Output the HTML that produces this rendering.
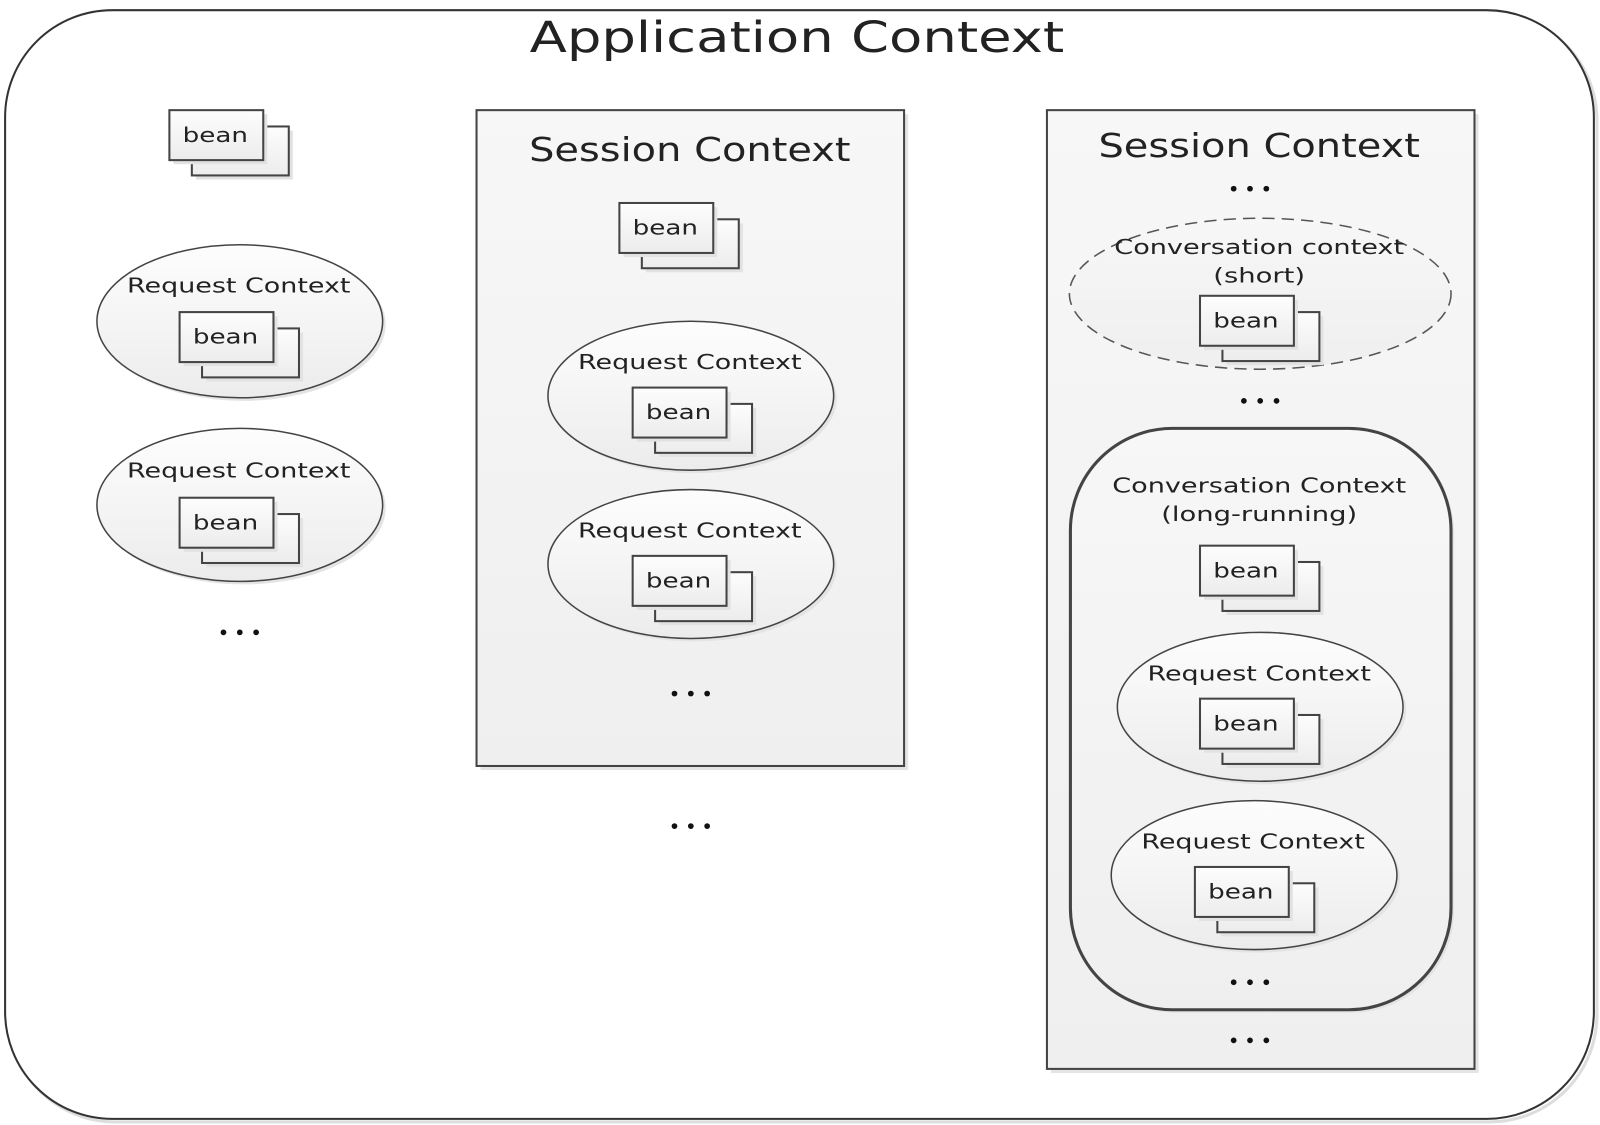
<!DOCTYPE html>
<html><head><style>
html,body{margin:0;padding:0;background:#fff;}
svg{display:block;}
text{font-family:"DejaVu Sans","Liberation Sans",sans-serif;fill:#222;}
</style></head><body>
<svg width="1600" height="1125" viewBox="0 0 1568 1103" preserveAspectRatio="none" xmlns="http://www.w3.org/2000/svg">
<defs>
<linearGradient id="g" x1="0" y1="0" x2="0" y2="1"><stop offset="0" stop-color="#fdfdfd"/><stop offset="1" stop-color="#ececec"/></linearGradient>
<linearGradient id="gs" x1="0" y1="0" x2="0" y2="1"><stop offset="0" stop-color="#f7f7f7"/><stop offset="1" stop-color="#efefef"/></linearGradient>
</defs>
<rect x="8" y="13" width="1557" height="1087" rx="105" fill="none" stroke="#ddd" stroke-width="3"/>
<rect x="5" y="10" width="1557" height="1087" rx="105" fill="#fff" stroke="#333" stroke-width="2"/>
<text x="781" y="51" font-size="42" text-anchor="middle" textLength="524" lengthAdjust="spacingAndGlyphs">Application Context</text>

<g><rect x="192" y="128" width="95" height="48" fill="#e2e2e2"/><rect x="188" y="124" width="95" height="48" fill="url(#g)" stroke="#444" stroke-width="2"/><rect x="170" y="112" width="92" height="49" fill="#e2e2e2"/><rect x="166" y="108" width="92" height="49" fill="url(#g)" stroke="#444" stroke-width="2"/><text x="211" y="139" font-size="20" text-anchor="middle" textLength="64" lengthAdjust="spacingAndGlyphs">bean</text></g>

<ellipse cx="238" cy="318" rx="140" ry="75" fill="#e4e4e4"/>
<ellipse cx="235" cy="315" rx="140" ry="75" fill="url(#g)" stroke="#444" stroke-width="1.5"/>
<text x="234" y="287" font-size="20" text-anchor="middle" textLength="219" lengthAdjust="spacingAndGlyphs">Request Context</text>
<g transform="translate(10,198)"><rect x="192" y="128" width="95" height="48" fill="#e2e2e2"/><rect x="188" y="124" width="95" height="48" fill="url(#g)" stroke="#444" stroke-width="2"/><rect x="170" y="112" width="92" height="49" fill="#e2e2e2"/><rect x="166" y="108" width="92" height="49" fill="url(#g)" stroke="#444" stroke-width="2"/><text x="211" y="139" font-size="20" text-anchor="middle" textLength="64" lengthAdjust="spacingAndGlyphs">bean</text></g>

<ellipse cx="238" cy="498" rx="140" ry="75" fill="#e4e4e4"/>
<ellipse cx="235" cy="495" rx="140" ry="75" fill="url(#g)" stroke="#444" stroke-width="1.5"/>
<text x="234" y="468" font-size="20" text-anchor="middle" textLength="219" lengthAdjust="spacingAndGlyphs">Request Context</text>
<g transform="translate(10,380)"><rect x="192" y="128" width="95" height="48" fill="#e2e2e2"/><rect x="188" y="124" width="95" height="48" fill="url(#g)" stroke="#444" stroke-width="2"/><rect x="170" y="112" width="92" height="49" fill="#e2e2e2"/><rect x="166" y="108" width="92" height="49" fill="url(#g)" stroke="#444" stroke-width="2"/><text x="211" y="139" font-size="20" text-anchor="middle" textLength="64" lengthAdjust="spacingAndGlyphs">bean</text></g>
<g fill="#111"><circle cx="219" cy="620" r="2.8"/><circle cx="235" cy="620" r="2.8"/><circle cx="251" cy="620" r="2.8"/></g>

<rect x="471" y="112" width="419" height="643" fill="#e4e4e4"/>
<rect x="467" y="108" width="419" height="643" fill="url(#gs)" stroke="#444" stroke-width="2"/>
<text x="676" y="158" font-size="32" text-anchor="middle" textLength="315" lengthAdjust="spacingAndGlyphs">Session Context</text>
<g transform="translate(441,91)"><rect x="192" y="128" width="95" height="48" fill="#e2e2e2"/><rect x="188" y="124" width="95" height="48" fill="url(#g)" stroke="#444" stroke-width="2"/><rect x="170" y="112" width="92" height="49" fill="#e2e2e2"/><rect x="166" y="108" width="92" height="49" fill="url(#g)" stroke="#444" stroke-width="2"/><text x="211" y="139" font-size="20" text-anchor="middle" textLength="64" lengthAdjust="spacingAndGlyphs">bean</text></g>
<ellipse cx="680" cy="391" rx="140" ry="73" fill="#e4e4e4"/>
<ellipse cx="677" cy="388" rx="140" ry="73" fill="url(#g)" stroke="#444" stroke-width="1.5"/>
<text x="676" y="362" font-size="20" text-anchor="middle" textLength="219" lengthAdjust="spacingAndGlyphs">Request Context</text>
<g transform="translate(454,272)"><rect x="192" y="128" width="95" height="48" fill="#e2e2e2"/><rect x="188" y="124" width="95" height="48" fill="url(#g)" stroke="#444" stroke-width="2"/><rect x="170" y="112" width="92" height="49" fill="#e2e2e2"/><rect x="166" y="108" width="92" height="49" fill="url(#g)" stroke="#444" stroke-width="2"/><text x="211" y="139" font-size="20" text-anchor="middle" textLength="64" lengthAdjust="spacingAndGlyphs">bean</text></g>
<ellipse cx="680" cy="556" rx="140" ry="73" fill="#e4e4e4"/>
<ellipse cx="677" cy="553" rx="140" ry="73" fill="url(#g)" stroke="#444" stroke-width="1.5"/>
<text x="676" y="527" font-size="20" text-anchor="middle" textLength="219" lengthAdjust="spacingAndGlyphs">Request Context</text>
<g transform="translate(454,437)"><rect x="192" y="128" width="95" height="48" fill="#e2e2e2"/><rect x="188" y="124" width="95" height="48" fill="url(#g)" stroke="#444" stroke-width="2"/><rect x="170" y="112" width="92" height="49" fill="#e2e2e2"/><rect x="166" y="108" width="92" height="49" fill="url(#g)" stroke="#444" stroke-width="2"/><text x="211" y="139" font-size="20" text-anchor="middle" textLength="64" lengthAdjust="spacingAndGlyphs">bean</text></g>
<g fill="#111"><circle cx="661" cy="680" r="2.8"/><circle cx="677" cy="680" r="2.8"/><circle cx="693" cy="680" r="2.8"/>
<circle cx="661" cy="810" r="2.8"/><circle cx="677" cy="810" r="2.8"/><circle cx="693" cy="810" r="2.8"/></g>

<rect x="1030" y="112" width="419" height="940" fill="#e4e4e4"/>
<rect x="1026" y="108" width="419" height="940" fill="url(#gs)" stroke="#444" stroke-width="2"/>
<text x="1234" y="154" font-size="32" text-anchor="middle" textLength="315" lengthAdjust="spacingAndGlyphs">Session Context</text>
<g fill="#111"><circle cx="1209" cy="185" r="2.8"/><circle cx="1225" cy="185" r="2.8"/><circle cx="1241" cy="185" r="2.8"/></g>
<ellipse cx="1235" cy="288" rx="187" ry="74" fill="url(#gs)" stroke="#555" stroke-width="1.5" stroke-dasharray="12,7"/>
<text x="1234" y="249" font-size="20" text-anchor="middle" textLength="284" lengthAdjust="spacingAndGlyphs">Conversation context</text>
<text x="1234" y="277" font-size="20" text-anchor="middle" textLength="90" lengthAdjust="spacingAndGlyphs">(short)</text>
<g transform="translate(1010,182)"><rect x="192" y="128" width="95" height="48" fill="#e2e2e2"/><rect x="188" y="124" width="95" height="48" fill="url(#g)" stroke="#444" stroke-width="2"/><rect x="170" y="112" width="92" height="49" fill="#e2e2e2"/><rect x="166" y="108" width="92" height="49" fill="url(#g)" stroke="#444" stroke-width="2"/><text x="211" y="139" font-size="20" text-anchor="middle" textLength="64" lengthAdjust="spacingAndGlyphs">bean</text></g>
<g fill="#111"><circle cx="1219" cy="393" r="2.8"/><circle cx="1235" cy="393" r="2.8"/><circle cx="1251" cy="393" r="2.8"/></g>

<rect x="1052" y="423" width="373" height="570" rx="100" fill="#e4e4e4"/>
<rect x="1049" y="420" width="373" height="570" rx="100" fill="url(#gs)" stroke="#444" stroke-width="3"/>
<text x="1234" y="483" font-size="20" text-anchor="middle" textLength="288" lengthAdjust="spacingAndGlyphs">Conversation Context</text>
<text x="1234" y="511" font-size="20" text-anchor="middle" textLength="192" lengthAdjust="spacingAndGlyphs">(long-running)</text>
<g transform="translate(1010,427)"><rect x="192" y="128" width="95" height="48" fill="#e2e2e2"/><rect x="188" y="124" width="95" height="48" fill="url(#g)" stroke="#444" stroke-width="2"/><rect x="170" y="112" width="92" height="49" fill="#e2e2e2"/><rect x="166" y="108" width="92" height="49" fill="url(#g)" stroke="#444" stroke-width="2"/><text x="211" y="139" font-size="20" text-anchor="middle" textLength="64" lengthAdjust="spacingAndGlyphs">bean</text></g>
<ellipse cx="1238" cy="696" rx="140" ry="73" fill="#e4e4e4"/>
<ellipse cx="1235" cy="693" rx="140" ry="73" fill="url(#g)" stroke="#444" stroke-width="1.5"/>
<text x="1234" y="667" font-size="20" text-anchor="middle" textLength="219" lengthAdjust="spacingAndGlyphs">Request Context</text>
<g transform="translate(1010,577)"><rect x="192" y="128" width="95" height="48" fill="#e2e2e2"/><rect x="188" y="124" width="95" height="48" fill="url(#g)" stroke="#444" stroke-width="2"/><rect x="170" y="112" width="92" height="49" fill="#e2e2e2"/><rect x="166" y="108" width="92" height="49" fill="url(#g)" stroke="#444" stroke-width="2"/><text x="211" y="139" font-size="20" text-anchor="middle" textLength="64" lengthAdjust="spacingAndGlyphs">bean</text></g>
<ellipse cx="1232" cy="861" rx="140" ry="73" fill="#e4e4e4"/>
<ellipse cx="1229" cy="858" rx="140" ry="73" fill="url(#g)" stroke="#444" stroke-width="1.5"/>
<text x="1228" y="832" font-size="20" text-anchor="middle" textLength="219" lengthAdjust="spacingAndGlyphs">Request Context</text>
<g transform="translate(1005,742)"><rect x="192" y="128" width="95" height="48" fill="#e2e2e2"/><rect x="188" y="124" width="95" height="48" fill="url(#g)" stroke="#444" stroke-width="2"/><rect x="170" y="112" width="92" height="49" fill="#e2e2e2"/><rect x="166" y="108" width="92" height="49" fill="url(#g)" stroke="#444" stroke-width="2"/><text x="211" y="139" font-size="20" text-anchor="middle" textLength="64" lengthAdjust="spacingAndGlyphs">bean</text></g>
<g fill="#111"><circle cx="1209" cy="963" r="2.8"/><circle cx="1225" cy="963" r="2.8"/><circle cx="1241" cy="963" r="2.8"/>
<circle cx="1209" cy="1020" r="2.8"/><circle cx="1225" cy="1020" r="2.8"/><circle cx="1241" cy="1020" r="2.8"/></g>
</svg>
</body></html>
